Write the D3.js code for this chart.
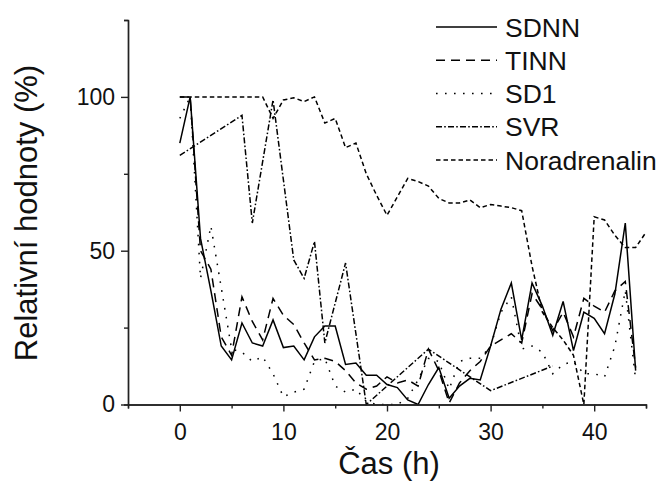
<!DOCTYPE html>
<html>
<head>
<meta charset="utf-8">
<script src="https://cdn.jsdelivr.net/npm/d3@7"></script>
<style>
  html, body { margin: 0; padding: 0; background: #fff; }
  svg { display: block; font-family: "Liberation Sans", Arial, sans-serif; }
</style>
</head>
<body>
<div id="chart"></div>
<script>
// hourly samples (relative values, %)
const hours = [0,1,2,3,4,5,6,7,8,9,10,11,12,13,14,15,16,17,18,19,20,21,22,23,24,25,26,27,28,29,30,31,32,33,34,35,36,37,38,39,40,41,42,43,44];

const sdnn = [85,100,54,37,19,14.5,26.5,20,19,27.5,18.5,19,14.5,22,25.5,25.5,13,13.5,9.5,9.5,6.5,5.5,1.5,0,6.5,12,2,6,8.5,8,19,31,39.5,21,39.5,32,22.5,33.5,17.5,30,28,23,36,59,11];

const tinn = [100,100,50,44,22,16,35,27,21,34.5,29,26,20,14.5,15,14,11,7,5,6,9,7,8,6,18,11,0.5,7,11,14,19,21,23,20,36,31,24,30,22,34.5,32,30,37,40,12];

const sd1 = [93,100,41,58,38,18,17,14,15.5,10,2.5,4,5,14,15,6,4,5,1,0,0,0,2,8,15,14,5,14,15,15,19,30,35,18,19,17,10,13,14,10,10,9,19,37,8];

const svrHours = [0,6,7,9,11,12,13,14,16,18,24,30,36];
const svr = [81,94,59,99,47,41,53,20,46,0,18,4.5,12.5];

const noraHours = [0,1,2,3,4,5,6,7,8,9,10,11,12,13,14,15,16,17,18,19,20,21,22,23,24,25,26,27,28,29,30,31,32,33,34,35,36,37,38,39,40,41,42,43,44,45];
const nora = [100,100,100,100,100,100,100,100,100,93,99,99.7,98.5,100,91.5,93,83.5,85,75,68,61.5,67.5,73.5,72.5,71,67,65.5,65.5,66.5,64,65,64.5,64,63,45,30,25,21,16,0,61,60,55,51,51,56];

const xMajor = [0,10,20,30,40];
const xMinor = [-5,5,15,25,35,45];
const yMajor = [0,50,100];
const yMinor = [25,75,125];

const seriesNames = ["SDNN","TINN","SD1","SVR","Noradrenalin"];

const width = 661, height = 489;
const svg = d3.select("#chart").append("svg")
    .attr("width", width)
    .attr("height", height);

const x = d3.scaleLinear().domain([-5, 45]).range([128, 646]);
const y = d3.scaleLinear().domain([0, 125]).range([404.5, 20]);

const dashes = {
    "SDNN": null,
    "TINN": "9,6",
    "SD1": "1.6,7.4",
    "SVR": "6,2.2,1.6,2.2",
    "Noradrenalin": "4.5,3"
};

const series = [
    { name: "SDNN", xs: hours, ys: sdnn },
    { name: "TINN", xs: hours, ys: tinn },
    { name: "SD1", xs: hours, ys: sd1 },
    { name: "SVR", xs: svrHours, ys: svr },
    { name: "Noradrenalin", xs: noraHours, ys: nora }
];

const line = d3.line()
    .x(d => x(d[0]))
    .y(d => y(d[1]));

svg.append("g")
    .selectAll("path")
    .data(series)
    .join("path")
    .attr("fill", "none")
    .attr("stroke", "#000")
    .attr("stroke-width", 1.5)
    .attr("stroke-linejoin", "miter")
    .attr("stroke-dasharray", d => dashes[d.name])
    .attr("d", d => line(d.xs.map((h, i) => [h, d.ys[i]])));

// axes: minor ticks short, major ticks longer with labels
const axisColor = "#222";

const gxMinor = svg.append("g")
    .attr("transform", `translate(0,${y(0)})`)
    .call(d3.axisBottom(x).tickValues(xMinor).tickSize(4).tickFormat(""));
const gx = svg.append("g")
    .attr("transform", `translate(0,${y(0)})`)
    .call(d3.axisBottom(x).tickValues(xMajor).tickSize(7).tickPadding(12).tickSizeOuter(0));

const gyMinor = svg.append("g")
    .attr("transform", `translate(${x(-5)},0)`)
    .call(d3.axisLeft(y).tickValues(yMinor).tickSize(4).tickFormat(""));
const gy = svg.append("g")
    .attr("transform", `translate(${x(-5)},0)`)
    .call(d3.axisLeft(y).tickValues(yMajor).tickSize(7).tickPadding(6).tickSizeOuter(0));

[gxMinor, gx, gyMinor, gy].forEach(g => {
    g.selectAll("path, line").attr("stroke", axisColor).attr("stroke-width", 1.4);
    g.selectAll("text")
        .attr("fill", "#111")
        .style("font-size", "23px")
        .style("font-family", "'Liberation Sans', Arial, sans-serif");
});

// axis titles
svg.append("text")
    .attr("x", 389)
    .attr("y", 474)
    .attr("text-anchor", "middle")
    .attr("fill", "#111")
    .style("font-size", "31px")
    .text("Čas (h)");

svg.append("text")
    .attr("transform", "translate(37,213) rotate(-90)")
    .attr("text-anchor", "middle")
    .attr("fill", "#111")
    .style("font-size", "31px")
    .text("Relativní hodnoty (%)");

// legend
const legend = svg.append("g");
const rowY = d3.scalePoint().domain(seriesNames).range([27, 160]);

const rows = legend.selectAll("g")
    .data(seriesNames)
    .join("g")
    .attr("transform", d => `translate(0,${rowY(d)})`);

rows.append("line")
    .attr("x1", 436).attr("x2", 497)
    .attr("stroke", "#000")
    .attr("stroke-width", 1.5)
    .attr("stroke-dasharray", d => dashes[d]);

rows.append("text")
    .attr("x", 505)
    .attr("dy", "0.36em")
    .attr("fill", "#111")
    .style("font-size", "26.5px")
    .text(d => d);
</script>
</body>
</html>
